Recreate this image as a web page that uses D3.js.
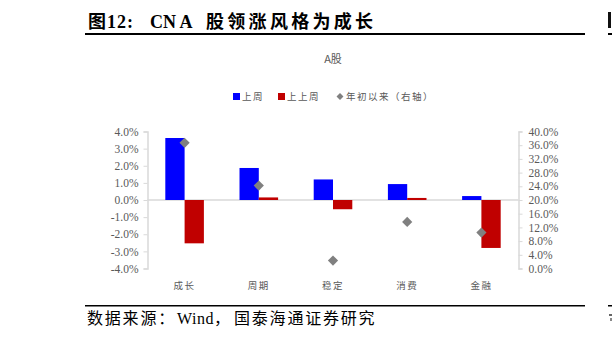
<!DOCTYPE html>
<html><head><meta charset="utf-8">
<script src="https://cdn.jsdelivr.net/npm/d3@7"></script>
<style>
html,body{margin:0;padding:0;background:#fff;}
svg{display:block;}
</style></head>
<body>
<script>
const categories = ["成长", "周期", "稳定", "消费", "金融"];
const lastWeek = [3.62, 1.87, 1.2, 0.93, 0.23];
const prevWeek = [-2.53, 0.15, -0.54, 0.12, -2.8];
const ytd = [36.7, 24.2, 2.3, 13.6, 10.5];
const leftTicks = [-4, -3, -2, -1, 0, 1, 2, 3, 4];
const rightTicks = [0, 4, 8, 12, 16, 20, 24, 28, 32, 36, 40];
const seriesNames = ["上周", "上上周", "年初以来（右轴）"];
const chartTitle = "A股";
const figTitleParts = ["图12:", "CN A", "股领涨风格为成长"];
const sourceParts = ["数据来源：", "Wind，", "国泰海通证券研究"];

const W = 612, H = 338;
const svg = d3.select("body").append("svg").attr("width", W).attr("height", H);
const cjk = "'Noto Sans CJK SC', sans-serif";
const serif = "'Liberation Serif', 'Times New Roman', serif";
const mixed = "'Liberation Serif', 'Noto Sans CJK SC', serif";
const gray = "#595959";

// Figure title
const tt = svg.append("g").attr("font-family", mixed).attr("font-weight", "bold")
  .attr("font-size", 18).attr("fill", "#000");
tt.append("text").attr("x", 88).attr("y", 28).attr("letter-spacing", 1).text(figTitleParts[0]);
tt.append("text").attr("x", 150).attr("y", 28).attr("letter-spacing", 0).text(figTitleParts[1]);
tt.append("text").attr("x", 206).attr("y", 28).attr("letter-spacing", 3.3).text(figTitleParts[2]);
svg.append("rect").attr("x", 85).attr("y", 33).attr("width", 500).attr("height", 2).attr("fill", "#000");
svg.append("rect").attr("x", 608).attr("y", 33).attr("width", 4).attr("height", 2).attr("fill", "#000");
svg.append("rect").attr("x", 608).attr("y", 12).attr("width", 3).attr("height", 16).attr("fill", "#111");

// Footer
svg.append("rect").attr("x", 85).attr("y", 305).attr("width", 500).attr("height", 1.5).attr("fill", "#000");
svg.append("rect").attr("x", 608).attr("y", 305).attr("width", 4).attr("height", 1.5).attr("fill", "#000");
const ft = svg.append("g").attr("font-family", mixed).attr("font-size", 16).attr("fill", "#000");
ft.append("text").attr("x", 87).attr("y", 324).attr("letter-spacing", 1.8).text(sourceParts[0]);
ft.append("text").attr("x", 177).attr("y", 324).attr("letter-spacing", 0.5).text(sourceParts[1]);
ft.append("text").attr("x", 234).attr("y", 324).attr("letter-spacing", 1.8).text(sourceParts[2]);
svg.append("rect").attr("x", 609).attr("y", 314).attr("width", 3).attr("height", 2).attr("fill", "#666");
svg.append("rect").attr("x", 610).attr("y", 318).attr("width", 2).attr("height", 3).attr("fill", "#888");

// Chart title
svg.append("text").attr("x", 333).attr("y", 63).attr("text-anchor", "middle")
  .attr("font-family", cjk).attr("font-size", 11).attr("fill", gray).text(chartTitle);

// Scales
const x0 = d3.scaleBand().domain(categories).range([147.5, 518.5]).padding(0);
const groupW = x0.bandwidth() * 0.52;
const x1 = d3.scaleBand().domain([0, 1]).range([0, groupW]).padding(0);
const yL = d3.scaleLinear().domain([-4, 4]).range([268.5, 131.5]);
const yR = d3.scaleLinear().domain([0, 40]).range([268.5, 131.5]);
const axisColor = "#d9d9d9";

// Zero line
svg.append("line").attr("x1", 147.5).attr("x2", 518.5)
  .attr("y1", yL(0)).attr("y2", yL(0)).attr("stroke", axisColor).attr("stroke-width", 1.5);

// Bars
const colors = ["#0000ff", "#c00000"];
[lastWeek, prevWeek].forEach((vals, si) => {
  svg.append("g").selectAll("rect").data(vals).join("rect")
    .attr("x", (d, i) => x0(categories[i]) + (x0.bandwidth() - groupW) / 2 + x1(si))
    .attr("width", x1.bandwidth())
    .attr("y", d => yL(Math.max(0, d)))
    .attr("height", d => Math.abs(yL(d) - yL(0)))
    .attr("fill", colors[si]);
});

// Diamonds
const sq = d3.symbol().type(d3.symbolSquare).size(52);
svg.append("g").selectAll("path").data(ytd).join("path")
  .attr("d", sq)
  .attr("transform", (d, i) => `translate(${x0(categories[i]) + x0.bandwidth() / 2},${yR(d)}) rotate(45)`)
  .attr("fill", "#808080");

// Axes
const fmt = v => v.toFixed(1) + "%";
const gL = svg.append("g").attr("transform", "translate(147.5,0)")
  .call(d3.axisLeft(yL).tickValues(leftTicks).tickFormat(fmt).tickSizeOuter(0).tickSize(4).tickPadding(5));
const gR = svg.append("g").attr("transform", "translate(518.5,0)")
  .call(d3.axisRight(yR).tickValues(rightTicks).tickFormat(fmt).tickSizeOuter(0).tickSize(4).tickPadding(6));
[gL, gR].forEach(g => {
  g.select(".domain").attr("stroke", axisColor).attr("stroke-width", 1.5);
  g.selectAll(".tick line").attr("stroke", axisColor);
  g.selectAll("text").attr("font-family", serif).attr("font-size", 11.5).attr("fill", gray);
});

// Category labels
svg.append("g").selectAll("text").data(categories).join("text")
  .attr("x", d => x0(d) + x0.bandwidth() / 2).attr("y", 289)
  .attr("text-anchor", "middle").attr("font-family", cjk).attr("font-size", 9.5)
  .attr("letter-spacing", 1.5).attr("fill", gray).text(d => d);

// Legend
const lg = svg.append("g").attr("font-family", cjk).attr("font-size", 9.5)
  .attr("letter-spacing", 1.5).attr("fill", gray);
lg.append("rect").attr("x", 233).attr("y", 93).attr("width", 7).attr("height", 7).attr("fill", colors[0]);
lg.append("text").attr("x", 242).attr("y", 100).text(seriesNames[0]);
lg.append("rect").attr("x", 278).attr("y", 93).attr("width", 7).attr("height", 7).attr("fill", colors[1]);
lg.append("text").attr("x", 287).attr("y", 100).text(seriesNames[1]);
lg.append("path").attr("d", d3.symbol().type(d3.symbolSquare).size(24))
  .attr("transform", "translate(340,96.5) rotate(45)").attr("fill", "#808080");
lg.append("text").attr("x", 346).attr("y", 100).text(seriesNames[2]);
</script>
</body></html>
